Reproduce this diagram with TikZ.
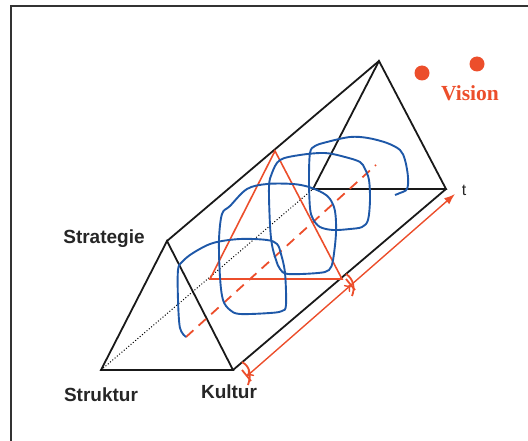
\documentclass[tikz,border=0pt]{standalone}
\usepackage{fontspec}
\setmainfont{Liberation Sans}
\newfontfamily\visionfont{Liberation Serif}
\usetikzlibrary{arrows.meta,positioning}
\definecolor{visionred}{RGB}{236,78,43}
\definecolor{scribbleblue}{RGB}{30,88,168}

\begin{document}
\begin{tikzpicture}[x=1pt,y=-1pt,
    frame/.style={draw=black!80, line width=2pt},
    edge/.style={draw=black!90, line width=1.8pt},
    hidden/.style={draw=black, dotted, line width=1pt},
    section/.style={draw=visionred, line width=1.6pt},
    guide/.style={draw=visionred, line width=1.8pt, dash pattern=on 10pt off 7pt},
    axis/.style={draw=visionred, line width=1.4pt},
    scribble/.style={draw=scribbleblue, line width=1.9pt, smooth, tension=0.55},
    corner/.style={font=\fontsize{19}{21}\selectfont\bfseries, text=black!85},
    dot/.style={circle, fill=visionred, minimum size=15pt, inner sep=0pt}
]
\useasboundingbox (0,0) rectangle (528,441);

% Frame
\draw[frame] (11,6) rectangle (560,470);

% Prism corners
\coordinate (struktur) at (101,370);
\coordinate (kultur) at (233,370);
\coordinate (strategie) at (167,241);
\coordinate (strukturB) at (313,189);
\coordinate (kulturB) at (446,189);
\coordinate (strategieB) at (379,61);

% Prism
\draw[edge] (struktur) -- (kultur) -- (strategie) -- cycle;
\draw[edge] (strukturB) -- (kulturB) -- (strategieB) -- cycle;
\draw[edge] (strategie) -- (strategieB);
\draw[edge] (kultur) -- (kulturB);
\draw[hidden] (struktur) -- (strukturB);

% Cross section
\coordinate (secL) at (210,279);
\coordinate (secR) at (342,279);
\coordinate (secT) at (275,151);
\draw[section] (secL) -- (secR) -- (secT) -- cycle;
\coordinate (guideS) at (186,337);
\coordinate (guideE) at (376,165);
\draw[guide] (guideS) -- (guideE);

% Scribble
\draw[scribble] plot coordinates {
  (186,337) (180,328) (178,300) (178,270) (182,262) (193,253) (213,243)
  (240,239) (267,240) (277,244) (281,254) (285,273) (286,305) (282,311)
  (270,313) (240,314) (230,310) (223,300) (220,277) (219,240) (222,214)
  (230,206) (247,189) (267,184) (293,184) (309,187) (323,193) (330,199)
  (335,211) (336,233) (333,260) (329,270) (318,273) (288,274) (280,269)
  (276,260) (272,245) (270,225) (269,187) (272,173) (280,160) (300,155)
  (325,153) (345,157) (360,162) (365,169) (369,180) (370,200) (368,220)
  (362,227) (350,229) (333,230) (320,227) (313,219) (310,208) (309,180)
  (310,153) (315,146) (327,142) (350,137) (368,138) (387,143) (400,150)
  (405,160) (408,177) (407,189) (400,193) (395,195)};

% Time axis
\coordinate (markA) at (247,376);
\coordinate (markB) at (351,285);
\coordinate (tEnd) at (455,194);
\draw[axis, {To[length=6pt,width=9pt]}-{To[length=6pt,width=9pt]}] (markA) -- (markB);
\draw[axis, -{Latex[length=11pt,width=8pt]}] (markB) -- (tEnd);
\draw[axis, line width=1.8pt] (242,362) .. controls (251,367) and (251,376) .. (248,385);
\draw[axis, line width=1.8pt] ([shift={(-5,-6)}]markA) -- ([shift={(4,5)}]markA);
\draw[axis, line width=1.8pt] (346,274) .. controls (354,279) and (355,289) .. (352,296);
\draw[axis, line width=1.8pt] ([shift={(-5,-6)}]markB) -- ([shift={(4,5)}]markB);

% Labels
\node[corner] (lblStrategie) at (104,239) {Strategie};
\node[corner] (lblStruktur) at (101,395) {Struktur};
\node[corner] (lblKultur) at (229,392) {Kultur};
\node[font=\fontsize{16}{18}\selectfont, text=black!85] (lblT) at (464,190) {t};

% Vision
\node[dot] (dotA) at (422,73) {};
\node[dot] (dotB) at (477,64) {};
\node[font=\visionfont\fontsize{21.5}{24}\selectfont\bfseries, text=visionred] (lblVision) at (470,93) {Vision};

\end{tikzpicture}
\end{document}
